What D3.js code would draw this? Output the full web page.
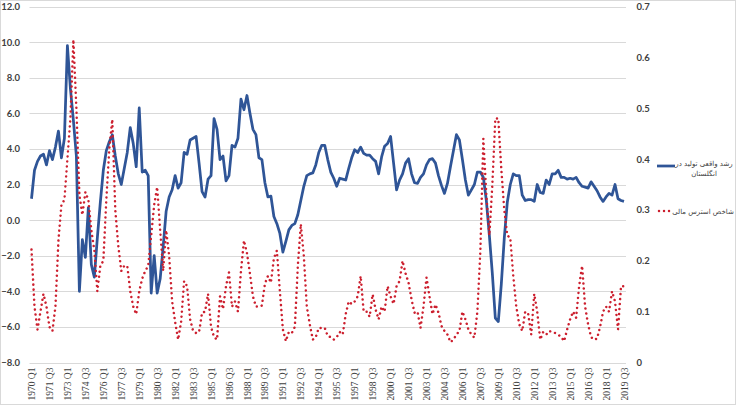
<!DOCTYPE html>
<html>
<head>
<meta charset="utf-8">
<script src="https://cdn.jsdelivr.net/npm/d3@7"></script>
<style>
  body { margin: 0; background: #fff; }
  svg { display: block; }
</style>
</head>
<body>
<script>
// UK real output growth (left axis, %)
const growth = [
  1.2, 2.8, 3.3, 3.6, 3.7, 3.1, 3.9, 3.4, 4.1, 5.0,
  3.5, 4.6, 9.8, 7.4, 5.6, 3.6, -4.0, -1.1, -2.1, 0.7,
  -2.5, -3.2, -1.0, 1.0, 2.8, 3.9, 4.4, 4.8, 3.6, 2.6,
  2.0, 2.9, 3.8, 5.2, 4.3, 3.0, 6.3, 2.7, 2.8, 2.5,
  -4.1, -2.0, -4.1, -3.3, -1.5, 0.5, 1.3, 1.7, 2.5, 1.8,
  2.1, 3.8, 3.7, 4.5, 4.6, 4.7, 3.2, 1.6, 1.3, 2.3,
  2.5, 5.7, 5.1, 3.4, 3.6, 2.2, 2.5, 4.2, 4.1, 4.6,
  6.8, 6.2, 7.0, 6.0, 5.1, 4.8, 3.5, 3.4, 2.1, 1.3,
  1.35, 0.2, -0.2, -0.75, -1.8, -1.2, -0.55, -0.3, -0.2, 0.3,
  1.1, 1.9, 2.5, 2.6, 2.65, 3.1, 3.8, 4.2, 4.2, 3.4,
  2.7, 2.35, 1.9, 2.35, 2.3, 2.25, 2.9, 3.5, 3.95, 3.8,
  4.1, 3.75, 3.65, 3.65, 3.45, 3.3, 2.6, 3.55, 4.15, 4.3,
  4.7, 3.2, 1.7, 2.25, 2.6, 3.2, 3.45, 2.6, 2.1, 2.06,
  2.4, 2.6, 3.1, 3.4, 3.45, 3.2, 2.5, 1.95, 1.5, 2.06,
  3.0, 3.9, 4.8, 4.5, 3.4, 2.25, 1.4, 1.7, 2.0, 2.7,
  2.7, 2.4, 1.1, -0.85, -3.0, -5.5, -5.7, -3.6, -1.0, 1.0,
  2.0, 2.6, 2.5, 2.5, 1.4, 1.1, 1.15, 1.15, 1.05, 2.0,
  1.55, 1.5, 2.25, 2.0, 2.6, 2.6, 2.8, 2.4, 2.4, 2.3,
  2.35, 2.3, 2.4, 2.1, 1.9, 1.85, 1.8, 2.15, 1.9, 1.65,
  1.3, 1.05, 1.3, 1.5, 1.4, 2.0, 1.2, 1.1, 1.05
];

// financial stress index (right axis)
const stress = [
  0.222, 0.11, 0.065, 0.10, 0.135, 0.11, 0.07, 0.062, 0.11, 0.24,
  0.31, 0.32, 0.40, 0.48, 0.635, 0.50, 0.33, 0.29, 0.335, 0.32,
  0.26, 0.22, 0.14, 0.19, 0.20, 0.32, 0.42, 0.478, 0.30, 0.23,
  0.18, 0.19, 0.19, 0.14, 0.11, 0.095, 0.14, 0.165, 0.18, 0.19,
  0.25, 0.31, 0.345, 0.26, 0.18, 0.26, 0.21, 0.12, 0.08, 0.045,
  0.08, 0.16, 0.15, 0.085, 0.062, 0.058, 0.06, 0.098, 0.10, 0.135,
  0.07, 0.05, 0.045, 0.13, 0.105, 0.15, 0.177, 0.11, 0.12, 0.10,
  0.18, 0.24, 0.215, 0.175, 0.13, 0.11, 0.11, 0.112, 0.155, 0.17,
  0.157, 0.205, 0.22, 0.14, 0.065, 0.042, 0.06, 0.058, 0.07, 0.19,
  0.272, 0.21, 0.11, 0.075, 0.045, 0.05, 0.068, 0.068, 0.068, 0.052,
  0.05, 0.045, 0.05, 0.06, 0.055, 0.095, 0.12, 0.115, 0.12, 0.13,
  0.17, 0.10, 0.10, 0.09, 0.134, 0.104, 0.085, 0.11, 0.10, 0.15,
  0.13, 0.115, 0.15, 0.16, 0.20, 0.175, 0.157, 0.124, 0.098, 0.10,
  0.068, 0.11, 0.167, 0.13, 0.095, 0.114, 0.098, 0.072, 0.062, 0.055,
  0.04, 0.045, 0.055, 0.062, 0.10, 0.085, 0.065, 0.055, 0.049, 0.10,
  0.22, 0.44, 0.33, 0.25, 0.35, 0.48, 0.48, 0.38, 0.30, 0.25,
  0.245, 0.17, 0.11, 0.075, 0.062, 0.10, 0.095, 0.055, 0.135, 0.10,
  0.045, 0.06, 0.055, 0.062, 0.06, 0.058, 0.055, 0.05, 0.042, 0.065,
  0.085, 0.10, 0.088, 0.15, 0.19, 0.11, 0.075, 0.05, 0.045, 0.047,
  0.07, 0.10, 0.11, 0.10, 0.14, 0.12, 0.065, 0.15, 0.15
];

// quarters 1970 Q1 .. 2019 Q3
const quarters = [];
for (let y = 1970; y <= 2019; y++) {
  for (let q = 1; q <= 4; q++) {
    if (y === 2019 && q > 3) break;
    quarters.push(y + ' Q' + q);
  }
}

const tickLabels = ["1970 Q1", "1971 Q3", "1973 Q1", "1974 Q3", "1976 Q1", "1977 Q3", "1979 Q1", "1980 Q3",
  "1982 Q1", "1983 Q3", "1985 Q1", "1986 Q3", "1988 Q1", "1989 Q3", "1991 Q1", "1992 Q3", "1994 Q1",
  "1995 Q3", "1997 Q1", "1998 Q3", "2000 Q1", "2001 Q3", "2003 Q1", "2004 Q3", "2006 Q1", "2007 Q3",
  "2009 Q1", "2010 Q3", "2012 Q1", "2013 Q3", "2015 Q1", "2016 Q3", "2018 Q1", "2019 Q3"];

const leftTicks = [-8, -6, -4, -2, 0, 2, 4, 6, 8, 10, 12];
const rightTicks = [0, 0.1, 0.2, 0.3, 0.4, 0.5, 0.6, 0.7];

const seriesNames = ["رشد واقعی تولید در", "انگلستان", "شاخص استرس مالی"];

const w = 736;
const h = 405;
const plotTop = 6.5;
const plotBottom = 362.5;

const svg = d3.select("body")
  .append("svg")
  .attr("width", w)
  .attr("height", h);

// chart border
svg.append("rect")
  .attr("x", 0.5).attr("y", 0.5)
  .attr("width", w - 1).attr("height", h - 1)
  .attr("fill", "#fff")
  .attr("stroke", "#d9d9d9");

const xScale = d3.scalePoint()
  .domain(quarters)
  .range([31.5, 624]);

const yLeft = d3.scaleLinear().domain([-8, 12]).range([plotBottom, plotTop]);
const yRight = d3.scaleLinear().domain([0, 0.7]).range([plotBottom, plotTop]);

// gridlines
svg.append("g")
  .selectAll("line")
  .data(leftTicks)
  .enter()
  .append("line")
  .attr("x1", 29.5)
  .attr("x2", 626)
  .attr("y1", d => Math.round(yLeft(d)) + 0.5)
  .attr("y2", d => Math.round(yLeft(d)) + 0.5)
  .attr("stroke", "#d9d9d9")
  .attr("stroke-width", 1);

// left axis
const leftAxis = d3.axisLeft(yLeft)
  .tickValues(leftTicks)
  .tickFormat(d3.format(".1f"))
  .tickSize(0)
  .tickPadding(0);

svg.append("g")
  .attr("transform", "translate(20,0)")
  .call(leftAxis)
  .call(g => g.select(".domain").remove())
  .selectAll("text")
  .attr("font-family", "Lato, 'Open Sans', sans-serif")
  .attr("font-weight", "bold")
  .attr("font-size", "9.5px")
  .attr("fill", "#404040");

// right axis
const rightAxis = d3.axisRight(yRight)
  .tickValues(rightTicks)
  .tickFormat(d => d === 0 ? "0" : d3.format(".1f")(d))
  .tickSize(0)
  .tickPadding(0);

svg.append("g")
  .attr("transform", "translate(636.5,0)")
  .call(rightAxis)
  .call(g => g.select(".domain").remove())
  .selectAll("text")
  .attr("font-family", "Lato, 'Open Sans', sans-serif")
  .attr("font-weight", "bold")
  .attr("font-size", "9.5px")
  .attr("fill", "#404040");

// x axis labels
const xAxis = d3.axisBottom(xScale)
  .tickValues(tickLabels)
  .tickSize(0)
  .tickPadding(0);

svg.append("g")
  .attr("transform", `translate(0,${plotBottom})`)
  .call(xAxis)
  .call(g => g.select(".domain").remove())
  .selectAll("text")
  .attr("font-family", "'Liberation Serif', serif")
  .attr("font-size", "9.5px")
  .attr("fill", "#404040")
  .attr("text-anchor", "end")
  .attr("y", 0)
  .attr("dy", "0.32em")
  .attr("transform", "translate(0,5) rotate(-90)");

// lines
const growthLine = d3.line()
  .x((d, i) => xScale(quarters[i]))
  .y(d => yLeft(d));

const stressLine = d3.line()
  .x((d, i) => xScale(quarters[i]))
  .y(d => yRight(d));

svg.append("path")
  .datum(growth)
  .attr("d", growthLine)
  .attr("fill", "none")
  .attr("stroke", "#2f5597")
  .attr("stroke-width", 2.75)
  .attr("stroke-linejoin", "round");

svg.append("path")
  .datum(stress)
  .attr("d", stressLine)
  .attr("fill", "none")
  .attr("stroke", "#cc1f2e")
  .attr("stroke-width", 2.5)
  .attr("stroke-linecap", "round")
  .attr("stroke-dasharray", "0.01 5");

// legend
const legend = svg.append("g");

legend.append("line")
  .attr("x1", 657).attr("x2", 675)
  .attr("y1", 166).attr("y2", 166)
  .attr("stroke", "#2f5597")
  .attr("stroke-width", 2.75);

legend.append("text")
  .attr("x", 704).attr("y", 166)
  .attr("text-anchor", "middle")
  .attr("font-family", "'DejaVu Sans', sans-serif")
  .attr("font-size", "7px")
  .attr("fill", "#404040")
  .text(seriesNames[0]);

legend.append("text")
  .attr("x", 704).attr("y", 176)
  .attr("text-anchor", "middle")
  .attr("font-family", "'DejaVu Sans', sans-serif")
  .attr("font-size", "7px")
  .attr("fill", "#404040")
  .text(seriesNames[1]);

legend.append("line")
  .attr("x1", 659).attr("x2", 674)
  .attr("y1", 211).attr("y2", 211)
  .attr("stroke", "#cc1f2e")
  .attr("stroke-width", 2.5)
  .attr("stroke-linecap", "round")
  .attr("stroke-dasharray", "0.01 5");

legend.append("text")
  .attr("x", 703).attr("y", 213.5)
  .attr("text-anchor", "middle")
  .attr("font-family", "'DejaVu Sans', sans-serif")
  .attr("font-size", "7px")
  .attr("fill", "#404040")
  .text(seriesNames[2]);
</script>
</body>
</html>
